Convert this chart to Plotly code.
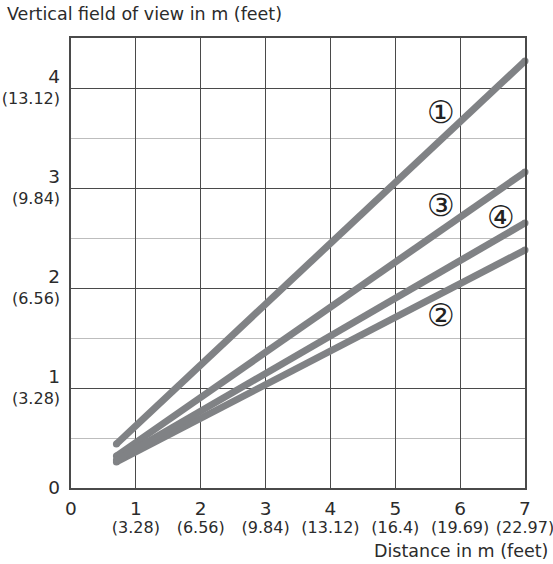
import plotly.graph_objects as go

# Data
series_names = ["①", "②", "③", "④"]
x_start = [0.7, 0.7, 0.7, 0.7]
x_end = [7.0, 7.0, 7.0, 7.0]
y_start = [0.44, 0.26, 0.32, 0.28]
y_end = [4.27, 2.38, 3.16, 2.65]
label_x = [5.70, 5.70, 5.71, 6.63]
label_y = [3.76, 1.73, 2.83, 2.71]

x_ticks = [0, 1, 2, 3, 4, 5, 6, 7]
x_feet = ["", "(3.28)", "(6.56)", "(9.84)", "(13.12)", "(16.4)", "(19.69)", "(22.97)"]
y_ticks = [0, 1, 2, 3, 4]
y_feet = ["", "(3.28)", "(6.56)", "(9.84)", "(13.12)"]
y_minor = [0.5, 1.5, 2.5, 3.5]

LINE_COLOR = "#808285"
TEXT_COLOR = "#2b2b2b"
MAJOR = "#4a4a4a"
MINOR = "#bdbdbd"
FONT = "DejaVu Sans"
MAIN = 18.5
SUB = 16


def fmt(v, ft):
    main = f"<span style='font-size:{MAIN}px'>{v}</span>"
    if not ft:
        return main
    return f"{main}<br><span style='font-size:{SUB}px'>{ft}</span>"


fig = go.Figure()
for i, name in enumerate(series_names):
    fig.add_trace(go.Scatter(
        x=[x_start[i], x_end[i]], y=[y_start[i], y_end[i]],
        mode="lines+markers",
        line=dict(color=LINE_COLOR, width=7),
        marker=dict(color=LINE_COLOR, size=7),
        showlegend=False, hoverinfo="skip", cliponaxis=False,
    ))

for i, name in enumerate(series_names):
    fig.add_annotation(x=label_x[i], y=label_y[i], text=name, showarrow=False,
                       font=dict(size=31, color="#222222", family="DejaVu Sans"))

fig.add_annotation(xref="paper", yref="paper", x=-0.1454, y=1.053, xanchor="left",
                   yanchor="middle", text="Vertical field of view in m (feet)",
                   showarrow=False, font=dict(size=17.5, color=TEXT_COLOR, family=FONT))
fig.add_annotation(xref="paper", yref="paper", x=1.055, y=-0.14, xanchor="right",
                   yanchor="middle", text="Distance in m (feet)",
                   showarrow=False, font=dict(size=17.5, color=TEXT_COLOR, family=FONT))

fig.update_xaxes(
    range=[0, 7], tickmode="array", tickvals=x_ticks,
    ticktext=[fmt(v, f) for v, f in zip(x_ticks, x_feet)],
    showgrid=True, gridcolor=MAJOR, gridwidth=1, zeroline=False,
    showline=True, mirror=True, linecolor=MAJOR, linewidth=1.5,
    ticks="", tickfont=dict(size=14, color=TEXT_COLOR, family=FONT),
    automargin=False, ticklabeloverflow="allow", ticklabelstandoff=8,
)
fig.update_yaxes(
    range=[0, 4.5], tickmode="array", tickvals=y_ticks,
    ticktext=[fmt(v, f) for v, f in zip(y_ticks, y_feet)],
    showgrid=True, gridcolor=MAJOR, gridwidth=1, zeroline=False,
    showline=True, mirror=True, linecolor=MAJOR, linewidth=1.5,
    ticks="", tickfont=dict(size=16, color=TEXT_COLOR, family=FONT),
    minor=dict(tickvals=y_minor, showgrid=True, gridcolor=MINOR, gridwidth=1),
    ticklabelstandoff=6, automargin=False, ticklabeloverflow="allow",
)

fig.update_layout(
    width=553, height=564,
    margin=dict(l=71, r=28, t=38, b=76),
    plot_bgcolor="white", paper_bgcolor="white",
    font=dict(family=FONT, color=TEXT_COLOR),
)

fig.write_html("out.html", config={"displayModeBar": False},
               post_script="document.body.style.margin='0';")
